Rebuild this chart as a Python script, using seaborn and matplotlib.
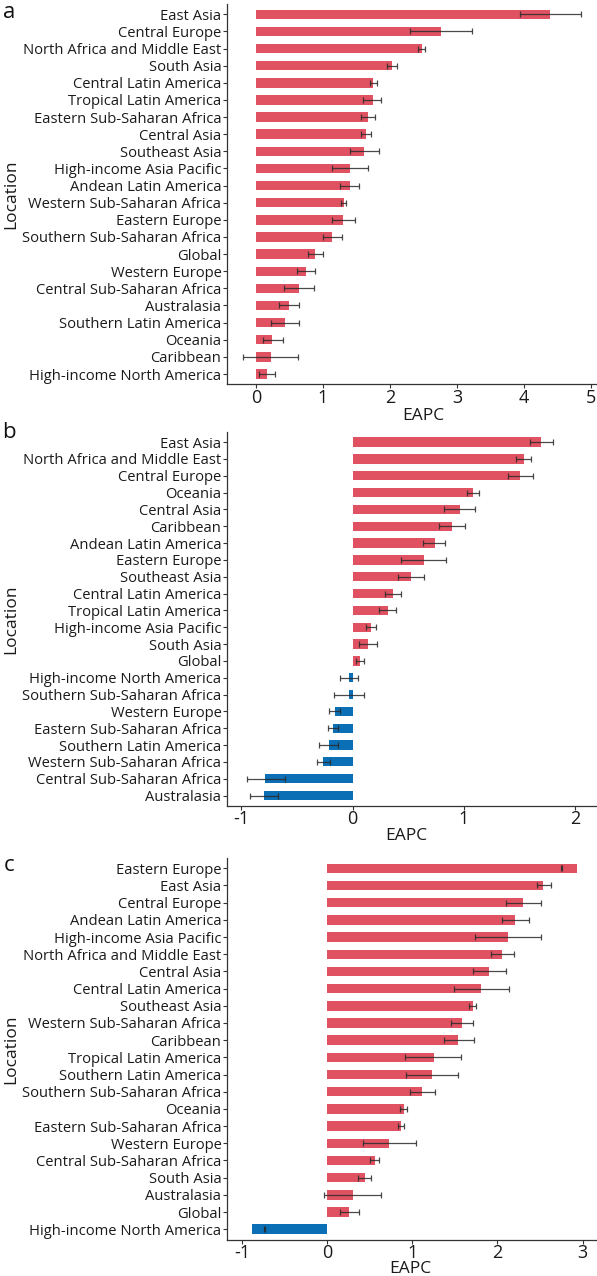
import matplotlib
matplotlib.use("Agg")
import numpy as np
import pandas as pd
import matplotlib.pyplot as plt
import seaborn as sns

# ---------------- data ----------------
locs_a = ["East Asia", "Central Europe", "North Africa and Middle East", "South Asia",
          "Central Latin America", "Tropical Latin America", "Eastern Sub-Saharan Africa",
          "Central Asia", "Southeast Asia", "High-income Asia Pacific", "Andean Latin America",
          "Western Sub-Saharan Africa", "Eastern Europe", "Southern Sub-Saharan Africa", "Global",
          "Western Europe", "Central Sub-Saharan Africa", "Australasia", "Southern Latin America",
          "Oceania", "Caribbean", "High-income North America"]
val_a = [4.385, 2.76, 2.47, 2.03, 1.74, 1.74, 1.67, 1.645, 1.61, 1.40, 1.40,
         1.31, 1.30, 1.13, 0.88, 0.75, 0.64, 0.50, 0.43, 0.245, 0.22, 0.165]
lo_a = [3.93, 2.295, 2.41, 1.95, 1.70, 1.60, 1.56, 1.56, 1.40, 1.13, 1.25,
        1.27, 1.13, 1.00, 0.77, 0.62, 0.42, 0.34, 0.22, 0.10, -0.19, 0.05]
hi_a = [4.85, 3.22, 2.52, 2.11, 1.80, 1.87, 1.78, 1.72, 1.83, 1.67, 1.54,
        1.35, 1.475, 1.28, 1.00, 0.88, 0.87, 0.65, 0.65, 0.40, 0.63, 0.28]

locs_b = ["East Asia", "North Africa and Middle East", "Central Europe", "Oceania",
          "Central Asia", "Caribbean", "Andean Latin America", "Eastern Europe",
          "Southeast Asia", "Central Latin America", "Tropical Latin America",
          "High-income Asia Pacific", "South Asia", "Global", "High-income North America",
          "Southern Sub-Saharan Africa", "Western Europe", "Eastern Sub-Saharan Africa",
          "Southern Latin America", "Western Sub-Saharan Africa", "Central Sub-Saharan Africa",
          "Australasia"]
val_b = [1.70, 1.545, 1.51, 1.085, 0.964, 0.898, 0.74, 0.64, 0.525, 0.363, 0.318,
         0.166, 0.14, 0.069, -0.028, -0.03, -0.162, -0.176, -0.214, -0.262, -0.784, -0.798]
lo_b = [1.60, 1.47, 1.395, 1.03, 0.826, 0.78, 0.635, 0.44, 0.41, 0.29, 0.24,
        0.124, 0.059, 0.03, -0.11, -0.17, -0.21, -0.225, -0.30, -0.32, -0.953, -0.925]
hi_b = [1.80, 1.61, 1.62, 1.14, 1.10, 1.015, 0.836, 0.84, 0.64, 0.44, 0.39,
        0.214, 0.218, 0.10, 0.045, 0.107, -0.114, -0.128, -0.128, -0.204, -0.611, -0.667]

locs_c = ["Eastern Europe", "East Asia", "Central Europe", "Andean Latin America",
          "High-income Asia Pacific", "North Africa and Middle East", "Central Asia",
          "Central Latin America", "Southeast Asia", "Western Sub-Saharan Africa", "Caribbean",
          "Tropical Latin America", "Southern Latin America", "Southern Sub-Saharan Africa",
          "Oceania", "Eastern Sub-Saharan Africa", "Western Europe", "Central Sub-Saharan Africa",
          "South Asia", "Australasia", "Global", "High-income North America"]
val_c = [2.94, 2.54, 2.30, 2.21, 2.13, 2.06, 1.90, 1.81, 1.71, 1.58, 1.54,
         1.25, 1.23, 1.12, 0.90, 0.87, 0.73, 0.56, 0.44, 0.30, 0.26, -0.88]
lo_c = [2.745, 2.46, 2.10, 2.05, 1.74, 1.93, 1.715, 1.49, 1.67, 1.46, 1.37,
        0.92, 0.93, 0.97, 0.86, 0.83, 0.42, 0.507, 0.36, -0.04, 0.15, -0.738]
hi_c = [2.755, 2.63, 2.51, 2.37, 2.51, 2.19, 2.10, 2.14, 1.75, 1.71, 1.72,
        1.575, 1.54, 1.27, 0.94, 0.905, 1.045, 0.61, 0.516, 0.63, 0.37, -0.728]

xticks_a = [0, 1, 2, 3, 4, 5]
xticks_b = [-1, 0, 1, 2]
xticks_c = [-1, 0, 1, 2, 3]

RED = "#E05262"
BLUE = "#0A6FB4"

# ---------------- style ----------------
sns.set_theme(style="white")
plt.rcParams["font.family"] = ["Open Sans", "DejaVu Sans"]

W, H = 597, 1276
fig = plt.figure(figsize=(W / 100, H / 100), dpi=100)


def axes_px(left, top, right, bottom):
    return fig.add_axes([left / W, 1 - bottom / H, (right - left) / W, (bottom - top) / H])


def panel(ax, locs, vals, lo, hi, xlim, xticks, letter, letter_base, label_x, label_base):
    df = pd.DataFrame({"Location": locs, "EAPC": vals})
    df["dir"] = np.where(df["EAPC"] >= 0, "up", "down")
    sns.barplot(data=df, x="EAPC", y="Location", hue="dir", order=locs,
                hue_order=["up", "down"], palette={"up": RED, "down": BLUE},
                dodge=False, width=0.55, saturation=1, legend=False, orient="h", ax=ax,
                edgecolor="none")
    lo = np.asarray(lo)
    hi = np.asarray(hi)
    ax.errorbar(x=(lo + hi) / 2, y=np.arange(len(locs)), xerr=(hi - lo) / 2, fmt="none",
                ecolor="#2a2a2a", elinewidth=0.9, capsize=2.3, capthick=0.9, alpha=0.85, zorder=3)
    n = len(locs)
    ax.set_ylim(n - 1 + 0.6, -0.6)
    ax.set_xlim(*xlim)
    ax.set_xticks(xticks)
    ax.set_xticklabels([str(t) for t in xticks])
    ax.set_xlabel("")
    ax.set_ylabel("")
    for s in ["top", "right"]:
        ax.spines[s].set_visible(False)
    for s in ["left", "bottom"]:
        ax.spines[s].set_color("#333333")
        ax.spines[s].set_linewidth(0.9)
    ax.tick_params(axis="y", left=True, length=3, width=0.8, color="#333333", pad=1,
                   labelsize=10.6, labelcolor="#1a1a1a")
    ax.tick_params(axis="x", bottom=True, length=3, width=0.8, color="#333333", pad=0.5,
                   labelsize=13, labelcolor="#1a1a1a")
    ax.grid(False)
    fig.text(9 / W, 1 - letter_base / H, letter, fontsize=16, ha="center", va="baseline",
             color="#111111")
    fig.text(label_x / W, 1 - label_base / H, "EAPC", fontsize=12.5, ha="center",
             va="baseline", color="#1a1a1a")
    pos = ax.get_position()
    fig.text(11 / W, (pos.y1 + pos.y0) / 2, "Location", fontsize=12.5, rotation=90,
             ha="center", va="center", color="#1a1a1a")


ax_a = axes_px(227, 4, 598, 384.3)
panel(ax_a, locs_a, val_a, lo_a, hi_a, (-0.43, 5.1), xticks_a, "a", 17.5, 423, 420)

ax_b = axes_px(227, 432, 597, 805.6)
panel(ax_b, locs_b, val_b, lo_b, hi_b, (-1.13, 2.2), xticks_b, "b", 438, 406, 840)

ax_c = axes_px(227, 858, 597, 1239.5)
panel(ax_c, locs_c, val_c, lo_c, hi_c, (-1.176, 3.17), xticks_c, "c", 871, 410, 1273)

fig.savefig("out.png", dpi=100)
